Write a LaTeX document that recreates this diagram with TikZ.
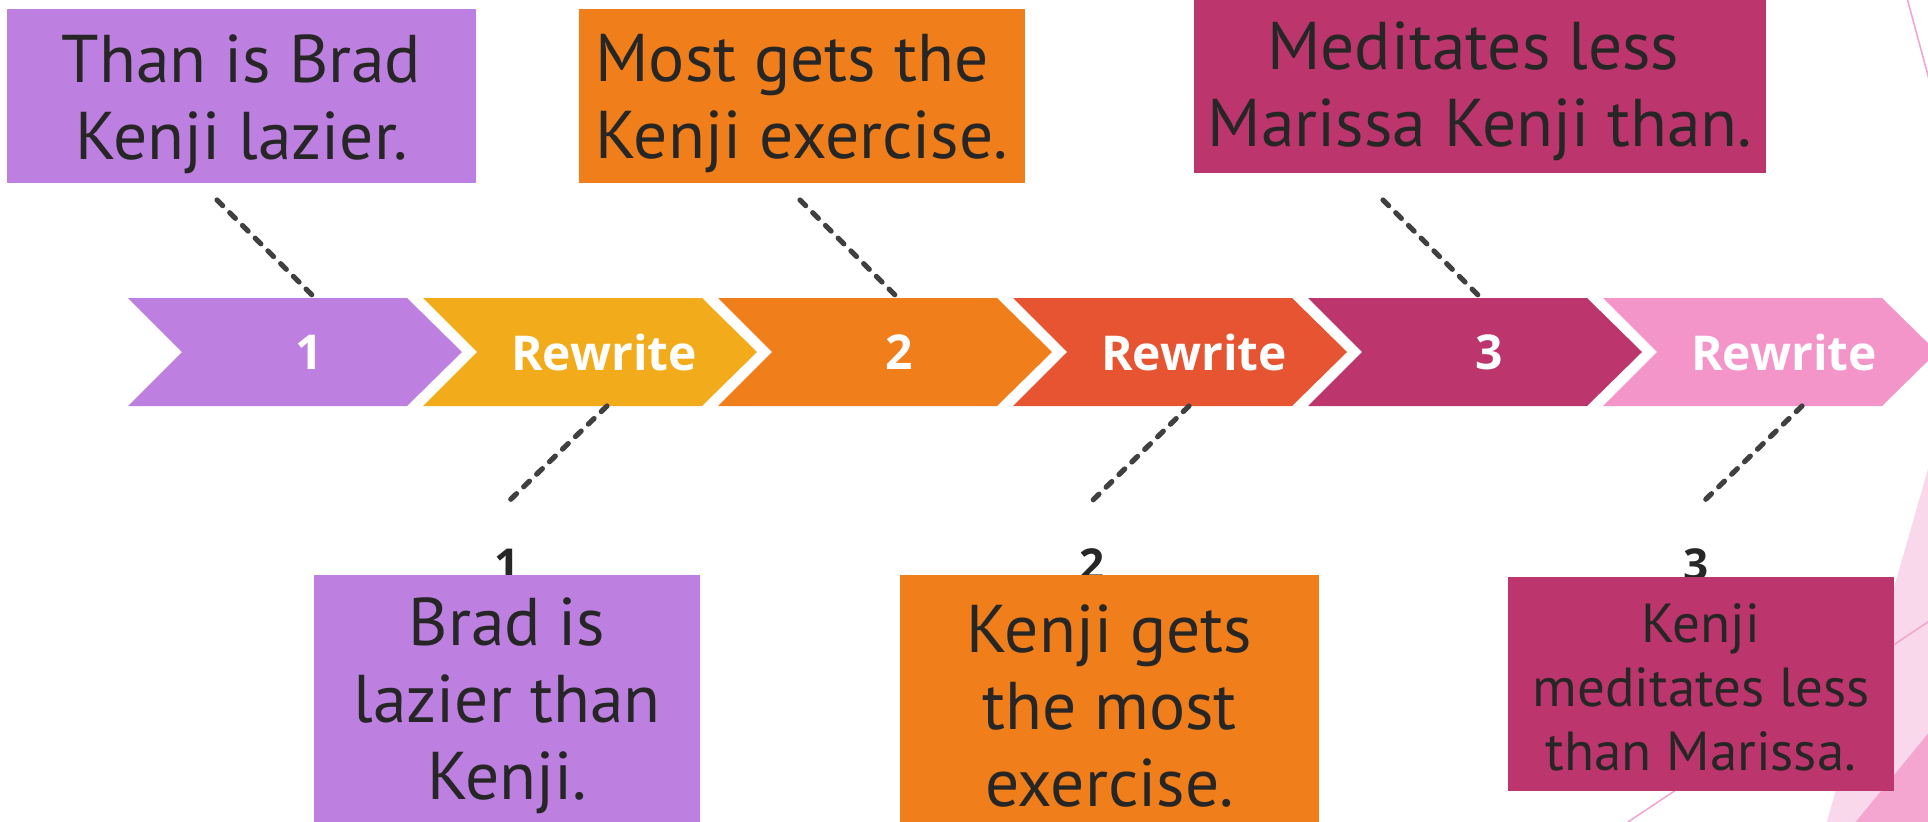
\documentclass[tikz,border=0pt]{standalone}
\usepackage{fontspec}
\setmainfont{PT Sans}
\newfontfamily\chevfont{Open Sans}
\definecolor{cA}{HTML}{BD80E0}
\definecolor{cB}{HTML}{F2AC1B}
\definecolor{cC}{HTML}{F07E1A}
\definecolor{cD}{HTML}{E65432}
\definecolor{cE}{HTML}{BC356C}
\definecolor{cF}{HTML}{F495CA}
\definecolor{txt}{HTML}{262626}
\definecolor{dash}{HTML}{404040}
\definecolor{bgLight}{HTML}{F9D8EB}
\definecolor{bgDark}{HTML}{F4A6D0}
\tikzset{
  chevlabel/.style={text=white, font=\chevfont\bfseries\fontsize{48}{56}\selectfont, inner sep=0pt},
  boxshape/.style={inner sep=0pt},
  bigtext/.style={inner sep=0pt, align=center, text=txt, font=\fontsize{67.5}{77}\selectfont},
  smalltext/.style={inner sep=0pt, align=center, text=txt, font=\fontsize{55}{64}\selectfont},
  digit/.style={text=txt, font=\chevfont\bfseries\fontsize{44}{50}\selectfont, inner sep=0pt, anchor=base},
  leader/.style={draw=dash, line width=5.2pt, line cap=round, dash pattern=on 8pt off 10pt},
  decoline/.style={draw=bgDark, line width=1.6pt}
}
\begin{document}
\begin{tikzpicture}[x=1pt,y=-1pt]
\useasboundingbox (0,0) rectangle (1928,822);
\clip (0,0) rectangle (1928,822);
% background decoration
\fill[bgLight] (1932,455) -- (1823,835) -- (1935,835) -- cycle;
\fill[bgDark] (1935,725) -- (1845,835) -- (1935,835) -- cycle;
\draw[decoline] (1907,-2) -- (1936,105);
\draw[decoline] (1940,614) -- (1610,834);
% chevrons
\foreach \i/\c/\t in {0/cA/1, 1/cB/Rewrite, 2/cC/2, 3/cD/Rewrite, 4/cE/3, 5/cF/Rewrite}{
  \pgfmathsetmacro\X{128+295*\i}
  \fill[\c] (\X,298) -- (\X+279,298) -- (\X+334,352) -- (\X+279,406) -- (\X,406) -- (\X+54,352) -- cycle;
  \node[chevlabel] (ch\i) at (\X+181,352) {\t};
}
% top boxes
\node[boxshape, fill=cA, minimum width=469pt, minimum height=174pt] (t1) at (241.5,96) {};
\node[bigtext] (t1t) at ([yshift=-8pt]t1.center) {Than is Brad\\Kenji lazier.};
\node[boxshape, fill=cC, minimum width=446pt, minimum height=174pt] (t2) at (802,96) {};
\node[bigtext] (t2t) at ([yshift=-8pt]t2.center) {Most gets the\hspace*{0.3em}\\Kenji exercise.};
\node[boxshape, fill=cE, minimum width=572pt, minimum height=180pt] (t3) at (1480,83) {};
\node[bigtext] (t3t) at ([yshift=-8pt]t3.center) {Meditates less\hspace*{0.2em}\\Marissa Kenji than.};
% digits (behind bottom boxes)
\node[digit] (d1) at (507,580) {1};
\node[digit] (d2) at (1092,580) {2};
\node[digit] (d3) at (1696,580) {3};
% bottom boxes
\node[boxshape, fill=cA, minimum width=386pt, minimum height=250pt] (b1) at (507,700) {};
\node[bigtext] (b1t) at ([yshift=-6pt]b1.center) {Brad is\\lazier than\\Kenji.};
\node[boxshape, fill=cC, minimum width=419pt, minimum height=250pt] (b2) at (1109.5,700) {};
\node[bigtext] (b2t) at ([yshift=-6pt]b2.center) {Kenji gets\\the most\\exercise.};
\node[boxshape, fill=cE, minimum width=386pt, minimum height=214pt] (b3) at (1701,684) {};
\node[smalltext] (b3t) at ([yshift=-3pt]b3.center) {Kenji\\meditates less\\than Marissa.};
% leader lines
\coordinate (u1) at (217,200); \coordinate (v1) at (315,298);
\coordinate (u2) at (800,200); \coordinate (v2) at (898,298);
\coordinate (u3) at (1383,200); \coordinate (v3) at (1481,298);
\coordinate (p1) at (607,406); \coordinate (q1) at (510,500);
\coordinate (p2) at (1189,406); \coordinate (q2) at (1093,500);
\coordinate (p3) at (1802,406); \coordinate (q3) at (1705,500);
\foreach \k in {1,2,3}{
  \draw[leader] (u\k) -- (v\k);
  \draw[leader] (p\k) -- (q\k);
}
\end{tikzpicture}
\end{document}
